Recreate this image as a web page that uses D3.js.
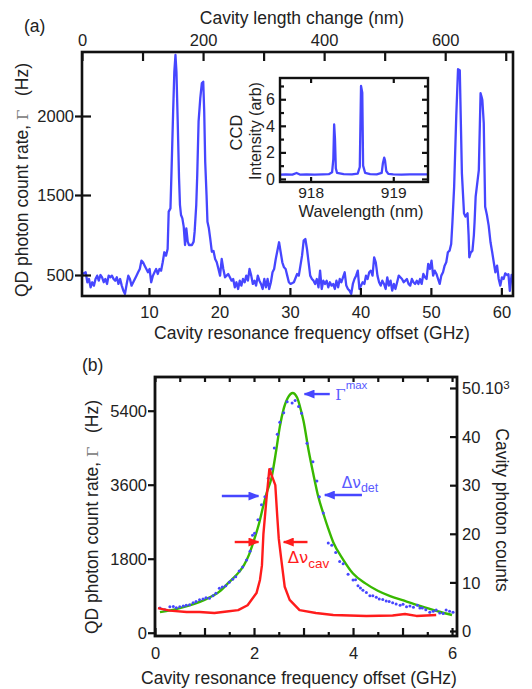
<!DOCTYPE html>
<html>
<head>
<meta charset="utf-8">
<script src="https://cdn.jsdelivr.net/npm/d3@7"></script>
<style>
  body { margin: 0; background: #fff; }
  text { font-family: "Liberation Sans", Arial, sans-serif; fill: #222; }
</style>
</head>
<body>
<svg id="chart" width="532" height="689"></svg>
<script>
// ---------- data, panel (a): QD count rate vs cavity offset (GHz, Hz) ----------
const traceA = [
  [0.5, 500], [0.56, 513], [1.02, 534], [1.26, 409], [1.49, 450], [1.72, 346], [1.95, 409], [2.19, 367],
  [2.42, 450], [2.65, 492], [2.88, 429], [3.12, 500], [3.35, 471], [3.58, 409], [3.81, 450], [4.05, 388],
  [4.28, 492], [4.51, 471], [4.74, 492], [4.98, 450], [5.21, 429], [5.44, 471], [5.67, 388], [5.91, 450],
  [6.14, 367], [6.37, 304], [6.6, 263], [6.84, 388], [7.07, 492], [7.3, 450], [7.53, 367], [7.77, 409],
  [8.0, 450], [8.23, 492], [8.46, 534], [8.7, 575], [8.93, 679], [9.16, 659], [9.39, 617], [9.63, 575],
  [9.86, 534], [10.09, 575], [10.32, 409], [10.56, 492], [10.79, 534], [11.02, 575], [11.25, 513], [11.49, 575],
  [11.72, 554], [11.95, 659], [12.18, 784], [12.42, 742], [12.65, 825], [12.8, 1292], [13.05, 1333], [13.2, 1648],
  [13.43, 2027], [13.6, 2280], [13.76, 2386], [13.9, 2280], [14.08, 1964], [14.27, 1605], [14.4, 1375], [14.55, 1250],
  [14.74, 1208], [14.93, 1104], [15.12, 875], [15.3, 1083], [15.5, 917], [15.68, 875], [15.87, 875], [16.1, 875],
  [16.34, 917], [16.48, 1042], [16.71, 1375], [16.85, 1627], [17.04, 1964], [17.28, 2112], [17.5, 2207], [17.7, 2217],
  [17.84, 2027], [17.98, 1711], [18.17, 1500], [18.3, 1166], [18.5, 1083], [18.69, 958], [18.92, 791], [19.16, 800],
  [19.39, 700], [19.62, 659], [19.86, 575], [20.09, 492], [20.32, 700], [20.55, 575], [20.79, 471], [21.02, 492],
  [21.25, 513], [21.48, 471], [21.72, 429], [21.95, 450], [22.18, 346], [22.41, 409], [22.65, 325], [22.88, 429],
  [23.11, 367], [23.34, 450], [23.58, 409], [23.81, 492], [24.04, 429], [24.27, 575], [24.51, 492], [24.74, 388],
  [24.97, 429], [25.2, 367], [25.44, 492], [25.67, 429], [25.9, 388], [26.13, 325], [26.37, 450], [26.6, 346],
  [26.83, 450], [27.06, 325], [27.3, 409], [27.53, 534], [27.76, 575], [27.99, 700], [28.22, 804], [28.46, 909],
  [28.69, 784], [28.92, 659], [29.16, 596], [29.39, 575], [29.62, 492], [29.85, 409], [30.09, 388], [30.56, 409],
  [31.02, 513], [31.26, 492], [31.49, 617], [31.72, 742], [31.95, 929], [32.19, 950], [32.42, 825], [32.65, 659],
  [32.88, 492], [33.12, 450], [33.35, 429], [33.58, 388], [33.81, 450], [34.05, 346], [34.28, 554], [34.51, 325],
  [34.74, 429], [34.98, 388], [35.21, 429], [35.44, 346], [35.67, 409], [35.91, 367], [36.14, 388], [36.37, 325],
  [36.6, 429], [36.84, 346], [37.07, 450], [37.3, 409], [37.53, 471], [37.77, 534], [38.0, 367], [38.23, 325],
  [38.46, 304], [38.7, 263], [38.93, 388], [39.16, 450], [39.39, 492], [39.63, 554], [39.86, 325], [40.09, 367],
  [40.32, 409], [40.56, 388], [40.79, 492], [41.02, 450], [41.25, 534], [41.49, 554], [41.72, 492], [41.95, 721],
  [42.18, 659], [42.42, 492], [42.65, 409], [42.88, 367], [43.11, 429], [43.35, 388], [43.58, 325], [43.81, 471],
  [44.04, 367], [44.28, 429], [44.51, 304], [44.74, 388], [44.97, 325], [45.21, 409], [45.44, 492], [45.67, 471],
  [45.9, 450], [46.14, 409], [46.37, 429], [46.6, 450], [46.83, 388], [47.07, 367], [47.3, 450], [47.53, 409],
  [47.76, 388], [48.0, 429], [48.23, 388], [48.46, 450], [48.69, 388], [48.93, 513], [49.16, 471], [49.39, 450],
  [49.62, 638], [49.86, 575], [50.09, 679], [50.32, 492], [50.55, 554], [50.79, 513], [51.02, 450], [51.25, 388],
  [51.48, 492], [51.72, 534], [51.95, 617], [52.18, 659], [52.41, 784], [52.65, 804], [52.88, 888], [53.05, 1150],
  [53.3, 1553], [53.6, 2000], [53.85, 2296], [54.1, 2290], [54.4, 1637], [54.7, 1271], [54.9, 1229], [55.2, 1271],
  [55.35, 1000], [55.45, 721], [55.65, 780], [55.9, 804], [56.1, 1000], [56.2, 1166], [56.35, 1479], [56.8, 1658],
  [57.05, 2144], [57.2, 2120], [57.3, 2101], [57.5, 1955], [57.7, 1354], [57.95, 1250], [58.2, 1117], [58.46, 909],
  [58.7, 784], [58.92, 659], [59.15, 534], [59.39, 617], [59.62, 450], [59.85, 367], [60.08, 471], [60.32, 450],
  [60.55, 520], [60.8, 500], [61.0, 510], [61.2, 300], [61.45, 500], [61.65, 490]
];
const ghzTicksA = [10, 20, 30, 40, 50, 60];
const nmTicksA = [0, 100, 200, 300, 400, 500, 600, 700];
const nmLabelsA = [0, 200, 400, 600];
const rateTicksA = [500, 1500, 2000];

// inset: CCD spectrum (nm, arb)
const spectrum = [
  [917.63, 0.32], [917.7, 0.35], [917.78, 0.33], [917.83, 0.45], [917.87, 0.33], [917.95, 0.34], [918.05, 0.33],
  [918.15, 0.35], [918.22, 0.36], [918.26, 0.5], [918.275, 1.5], [918.285, 4.1], [918.295, 3.0], [918.305, 0.8],
  [918.32, 0.45], [918.4, 0.36], [918.5, 0.35], [918.57, 0.4], [918.595, 0.9], [918.61, 7.0], [918.625, 6.5],
  [918.635, 1.0], [918.66, 0.45], [918.72, 0.36], [918.8, 0.35], [918.86, 0.45], [918.875, 1.2], [918.89, 1.6],
  [918.9, 1.4], [918.915, 0.6], [918.94, 0.38], [919.0, 0.35], [919.1, 0.33], [919.2, 0.35], [919.3, 0.34],
  [919.42, 0.34]
];
const nmTicksInset = [918, 919];
const arbTicksInset = [0, 1, 2, 3, 4, 5, 6, 7];

// ---------- data, panel (b) ----------
// measured QD count rate (GHz, Hz)
const dotsB = [
  [0.1, 600], [0.2, 560], [0.3, 630], [0.37, 640], [0.43, 610], [0.5, 630], [0.57, 650], [0.63, 670],
  [0.7, 680], [0.77, 730], [0.83, 760], [0.9, 800], [0.97, 820], [1.03, 850], [1.1, 840], [1.17, 900],
  [1.23, 960], [1.3, 1080], [1.36, 1110], [1.43, 1140], [1.5, 1230], [1.57, 1300], [1.63, 1360], [1.7, 1500],
  [1.77, 1600], [1.85, 1770], [1.92, 1980], [1.97, 2370], [2.01, 2420], [2.08, 2750], [2.15, 3110], [2.22, 3310],
  [2.29, 3760], [2.35, 3980], [2.41, 4490], [2.47, 4830], [2.52, 5120], [2.6, 5350], [2.67, 5620], [2.77, 5590],
  [2.83, 5650], [2.9, 5500], [2.96, 5340], [3.07, 4610], [3.19, 4160], [3.27, 3690], [3.32, 3310], [3.4, 2910],
  [3.5, 2180], [3.57, 2130], [3.65, 1950], [3.73, 1730], [3.8, 1680], [3.9, 1420], [4.0, 1280], [4.05, 1290],
  [4.1, 1140], [4.15, 1090], [4.2, 1030], [4.27, 980], [4.34, 900], [4.4, 900], [4.47, 860], [4.53, 820],
  [4.6, 810], [4.67, 770], [4.73, 760], [4.8, 730], [4.87, 700], [4.95, 670], [5.01, 690], [5.08, 630],
  [5.15, 650], [5.22, 620], [5.3, 670], [5.35, 600], [5.4, 600], [5.47, 560], [5.55, 500], [5.62, 520],
  [5.68, 550], [5.75, 480], [5.82, 470], [5.88, 550], [5.95, 520], [6.02, 500]
];
// fitted curve (GHz, Hz)
const fitB = [
  [0.1, 500], [0.5, 600], [1.0, 800], [1.3, 1000], [1.5, 1235], [1.7, 1480], [1.8, 1650], [1.9, 1900],
  [2.0, 2250], [2.1, 2650], [2.2, 3150], [2.26, 3420], [2.35, 3750], [2.45, 4450], [2.52, 5000], [2.6, 5450],
  [2.7, 5750], [2.78, 5830], [2.87, 5720], [2.95, 5400], [3.0, 5150], [3.1, 4450], [3.2, 3850], [3.3, 3300],
  [3.4, 2900], [3.5, 2530], [3.6, 2200], [3.8, 1780], [4.0, 1440], [4.25, 1200], [4.5, 1020], [4.75, 890],
  [5.0, 790], [5.25, 690], [5.5, 600], [5.75, 510], [6.0, 430]
];
// cavity photon counts (GHz, counts)
const cavityB = [
  [0.06, 4700], [0.3, 4200], [0.64, 3900], [0.9, 3900], [1.2, 3700], [1.45, 4000], [1.68, 4300], [1.87, 5300],
  [2.05, 7800], [2.12, 10500], [2.16, 13500], [2.19, 20000], [2.25, 27000], [2.31, 33300], [2.43, 30000],
  [2.47, 23500], [2.5, 19000], [2.55, 14800], [2.62, 9100], [2.72, 6400], [2.92, 4300], [3.25, 3700],
  [3.6, 3300], [4.27, 3100], [4.8, 3200], [5.05, 3500], [5.28, 3100], [5.68, 3300]
];
const ghzMajorB = [0, 1, 2, 3, 4, 5, 6];
const ghzMinorB = [0.5, 1.5, 2.5, 3.5, 4.5, 5.5];
const ghzLabelsB = [0, 2, 4, 6];
const rateTicksB = [0, 1800, 3600, 5400];
const countTicksB = [0, 10000, 20000, 30000, 40000, 50000];

// annotations of panel (b), in data units: arrows [x from, x to, Hz]
const blueArrows = [[3.53, 3.02, 5805], [4.18, 3.43, 3349], [1.35, 2.09, 3325]];
const redArrows = [[1.61, 2.09, 2206], [3.08, 2.6, 2206]];

// ---------- drawing ----------
const svg = d3.select('#chart');
const BLUE = '#4646ff';
const LABEL_BLUE = '#5a5aff';
const RED = '#ff1c1c';
const GREEN = '#38b800';
const INK = '#111';
const FONT = '"Liberation Sans", Arial, sans-serif';
const TICK_SIZE = 16.5;
const TITLE_SIZE = 17.5;

function tidy(g) {
  g.select('.domain').remove();
  g.attr('font-family', FONT).attr('font-size', TICK_SIZE);
  g.selectAll('line').attr('stroke', INK).attr('stroke-width', 2.2);
  g.selectAll('text').attr('fill', '#222');
}

const defs = svg.append('defs');
defs.append('clipPath').attr('id', 'clipA')
  .append('rect').attr('x', 82).attr('y', 52).attr('width', 431).attr('height', 244);
defs.append('clipPath').attr('id', 'clipB')
  .append('rect').attr('x', 155).attr('y', 377).attr('width', 302).attr('height', 259);

[['arrowBlue', BLUE], ['arrowRed', RED]].forEach(([id, color]) => {
  defs.append('marker')
    .attr('id', id)
    .attr('markerUnits', 'userSpaceOnUse')
    .attr('markerWidth', 11).attr('markerHeight', 9)
    .attr('refX', 10).attr('refY', 4.5)
    .attr('orient', 'auto')
    .append('path').attr('d', 'M0,0 L11,4.5 L0,9 Z').attr('fill', color);
});

// panel (a)
const xA = d3.scaleLinear().domain([0.5, 61.65]).range([82, 513]);
const nmA = d3.scaleLinear().domain([0, 712]).range([82, 513]);
const yA = d3.scaleLinear()
  .domain([237, 500, 1500, 2000, 2405])
  .range([296, 275, 195, 116, 52]);

svg.append('path')
  .datum(traceA)
  .attr('clip-path', 'url(#clipA)')
  .attr('fill', 'none')
  .attr('stroke', BLUE)
  .attr('stroke-width', 2.3)
  .attr('stroke-linejoin', 'round')
  .attr('d', d3.line().x((d) => xA(d[0])).y((d) => yA(d[1])));

svg.append('g')
  .attr('transform', 'translate(0,296)')
  .call(d3.axisBottom(xA).tickValues(ghzTicksA).tickSize(-8).tickFormat(d3.format('d')))
  .call(tidy)
  .call((g) => g.selectAll('text').attr('y', 22).attr('dy', 0));

svg.append('g')
  .attr('transform', 'translate(0,52)')
  .call(d3.axisTop(nmA).tickValues(nmTicksA).tickSize(-9)
    .tickFormat((d) => (nmLabelsA.includes(d) ? d : '')))
  .call(tidy)
  .call((g) => g.selectAll('text').attr('y', -6).attr('dy', 0));

svg.append('g')
  .attr('transform', 'translate(82,0)')
  .call(d3.axisLeft(yA).tickValues(rateTicksA).tickSize(7).tickFormat(d3.format('d')))
  .call(tidy)
  .call((g) => g.selectAll('line').attr('x1', 9))
  .call((g) => g.selectAll('text').attr('x', -8).attr('dy', '0.35em'));

svg.append('rect')
  .attr('x', 82).attr('y', 52).attr('width', 431).attr('height', 244)
  .attr('fill', 'none').attr('stroke', INK).attr('stroke-width', 2.6);

svg.append('text').attr('x', 24).attr('y', 32).attr('font-size', TITLE_SIZE).text('(a)');
svg.append('text').attr('x', 302).attr('y', 23.5).attr('font-size', TITLE_SIZE)
  .attr('text-anchor', 'middle').text('Cavity length change (nm)');
svg.append('text').attr('x', 312).attr('y', 339).attr('font-size', TITLE_SIZE)
  .attr('text-anchor', 'middle').text('Cavity resonance frequency offset (GHz)');

function rateLabel(x, y) {
  const t = svg.append('text')
    .attr('transform', `translate(${x},${y}) rotate(-90)`)
    .attr('text-anchor', 'middle').attr('font-size', TITLE_SIZE);
  t.append('tspan').text('QD photon count rate, ');
  t.append('tspan').attr('font-family', '"DejaVu Serif", serif').attr('font-size', 15)
    .style('fill', '#777').text('Γ');
  t.append('tspan').text('\u2002 (Hz)');
}
rateLabel(27.5, 180);

// inset
const xI = d3.scaleLinear().domain([917.63, 919.42]).range([280, 428]);
const yI = d3.scaleLinear().domain([-0.23, 7.6]).range([182, 78]);

svg.append('rect')
  .attr('x', 280).attr('y', 78).attr('width', 148).attr('height', 104).attr('fill', '#fff');

svg.append('path')
  .datum(spectrum)
  .attr('fill', 'none')
  .attr('stroke', BLUE)
  .attr('stroke-width', 2.3)
  .attr('stroke-linejoin', 'round')
  .attr('d', d3.line().x((d) => xI(d[0])).y((d) => yI(d[1])));

svg.append('g')
  .attr('transform', 'translate(280,0)')
  .call(d3.axisLeft(yI).tickValues(arbTicksInset).tickSize(-6)
    .tickFormat((d) => (d % 2 === 0 ? d : '')))
  .call(tidy)
  .call((g) => g.attr('font-size', 16))
  .call((g) => g.selectAll('line').attr('x2', (d) => (d % 2 === 0 ? 6 : 4)))
  .call((g) => g.selectAll('text').attr('x', -5).attr('dy', '0.35em'));

svg.append('g')
  .attr('transform', 'translate(428,0)')
  .call(d3.axisRight(yI).tickValues(arbTicksInset).tickSize(-6).tickFormat(''))
  .call(tidy)
  .call((g) => g.selectAll('line').attr('x2', (d) => (d % 2 === 0 ? -6 : -4)));

svg.append('g')
  .attr('transform', 'translate(0,182)')
  .call(d3.axisBottom(xI).tickValues(nmTicksInset).tickSize(-5).tickFormat(d3.format('d')))
  .call(tidy)
  .call((g) => g.attr('font-size', 15.5))
  .call((g) => g.selectAll('text').attr('y', 15.5).attr('dy', 0));

svg.append('g')
  .attr('transform', 'translate(0,78)')
  .call(d3.axisTop(xI).tickValues(nmTicksInset).tickSize(-5).tickFormat(''))
  .call(tidy);

svg.append('rect')
  .attr('x', 280).attr('y', 78).attr('width', 148).attr('height', 104)
  .attr('fill', 'none').attr('stroke', INK).attr('stroke-width', 2.4);

svg.append('text').attr('x', 361).attr('y', 216.5).attr('font-size', 16.5)
  .attr('text-anchor', 'middle').text('Wavelength (nm)');
svg.append('text').attr('transform', 'translate(242,132.5) rotate(-90)')
  .attr('font-size', 16.5).attr('text-anchor', 'middle').text('CCD');
svg.append('text').attr('transform', 'translate(260.5,131) rotate(-90)')
  .attr('font-size', 16).attr('text-anchor', 'middle').text('Intensity (arb)');

// panel (b)
const xB = d3.scaleLinear().domain([0, 6.1]).range([155, 457]);
const yB = d3.scaleLinear().domain([-80, 6220]).range([636, 377]);
const yR = d3.scaleLinear().domain([-1030, 52260]).range([636, 377]);

const plotB = svg.append('g').attr('clip-path', 'url(#clipB)');

plotB.append('path')
  .datum(fitB)
  .attr('fill', 'none')
  .attr('stroke', GREEN)
  .attr('stroke-width', 2.4)
  .attr('d', d3.line().curve(d3.curveMonotoneX).x((d) => xB(d[0])).y((d) => yB(d[1])));

plotB.selectAll('circle')
  .data(dotsB)
  .join('circle')
  .attr('cx', (d) => xB(d[0]))
  .attr('cy', (d) => yB(d[1]))
  .attr('r', 1.5)
  .attr('fill', BLUE);

plotB.append('path')
  .datum(cavityB)
  .attr('fill', 'none')
  .attr('stroke', RED)
  .attr('stroke-width', 2.4)
  .attr('stroke-linejoin', 'round')
  .attr('d', d3.line().x((d) => xB(d[0])).y((d) => yR(d[1])));

svg.append('g')
  .attr('transform', 'translate(0,636)')
  .call(d3.axisBottom(xB).tickValues(ghzMajorB).tickSize(-8)
    .tickFormat((d) => (ghzLabelsB.includes(d) ? d : '')))
  .call(tidy)
  .call((g) => g.selectAll('text').attr('y', 22.5).attr('dy', 0));

svg.append('g')
  .attr('transform', 'translate(0,636)')
  .call(d3.axisBottom(xB).tickValues(ghzMinorB).tickSize(-4).tickFormat(''))
  .call(tidy);

svg.append('g')
  .attr('transform', 'translate(0,377)')
  .call(d3.axisTop(xB).tickValues(ghzMinorB.concat(ghzMajorB)).tickSize(-5).tickFormat(''))
  .call(tidy);

svg.append('g')
  .attr('transform', 'translate(155,0)')
  .call(d3.axisLeft(yB).tickValues(rateTicksB).tickSize(7).tickFormat(d3.format('d')))
  .call(tidy)
  .call((g) => g.selectAll('text').attr('x', -8).attr('dy', '0.35em'));

svg.append('g')
  .attr('transform', 'translate(457,0)')
  .call(d3.axisRight(yR).tickValues(countTicksB).tickSize(-7)
    .tickFormat((d) => (d === 50000 ? '50.10' : d / 1000)))
  .call(tidy)
  .call((g) => g.selectAll('text').attr('x', 5).attr('dy', '0.35em'))
  .call((g) => g.selectAll('text').filter((d) => d === 50000)
    .append('tspan').attr('dy', '-0.5em').attr('font-size', 11.5).text('3'));

svg.append('rect')
  .attr('x', 155).attr('y', 377).attr('width', 302).attr('height', 259)
  .attr('fill', 'none').attr('stroke', INK).attr('stroke-width', 2.8);

svg.append('text').attr('x', 82).attr('y', 371).attr('font-size', TITLE_SIZE).text('(b)');
svg.append('text').attr('x', 299).attr('y', 683.5).attr('font-size', TITLE_SIZE)
  .attr('text-anchor', 'middle').text('Cavity resonance frequency offset (GHz)');
rateLabel(97.5, 517);
svg.append('text').attr('transform', 'translate(496,510) rotate(90)')
  .attr('font-size', TITLE_SIZE).attr('text-anchor', 'middle').text('Cavity photon counts');

// arrows and their labels
svg.selectAll('line.arrow-blue')
  .data(blueArrows)
  .join('line')
  .attr('class', 'arrow-blue')
  .attr('x1', (d) => xB(d[0])).attr('x2', (d) => xB(d[1]))
  .attr('y1', (d) => yB(d[2])).attr('y2', (d) => yB(d[2]))
  .attr('stroke', BLUE).attr('stroke-width', 2.4)
  .attr('marker-end', 'url(#arrowBlue)');

svg.selectAll('line.arrow-red')
  .data(redArrows)
  .join('line')
  .attr('class', 'arrow-red')
  .attr('x1', (d) => xB(d[0])).attr('x2', (d) => xB(d[1]))
  .attr('y1', (d) => yB(d[2])).attr('y2', (d) => yB(d[2]))
  .attr('stroke', RED).attr('stroke-width', 2.4)
  .attr('marker-end', 'url(#arrowRed)');

const gMax = svg.append('text').attr('x', xB(3.64)).attr('y', yB(5659));
gMax.append('tspan').attr('font-family', '"DejaVu Serif", serif').attr('font-size', 15)
  .style('fill', LABEL_BLUE).text('Γ');
gMax.append('tspan').attr('dy', -11).attr('font-size', 11.5).style('fill', LABEL_BLUE).text('max');

const det = svg.append('text').attr('x', xB(3.77)).attr('y', yB(3519));
det.append('tspan').attr('font-family', '"DejaVu Sans", sans-serif').attr('font-size', 15.5)
  .style('fill', LABEL_BLUE).text('Δν');
det.append('tspan').attr('dy', 4).attr('font-size', 12.5).style('fill', LABEL_BLUE).text('det');

const cav = svg.append('text').attr('x', xB(2.68)).attr('y', yB(1695));
cav.append('tspan').attr('font-family', '"DejaVu Sans", sans-serif').attr('font-size', 16.5)
  .style('fill', RED).text('Δν');
cav.append('tspan').attr('dy', 5).attr('font-size', 13.5).style('fill', RED).text('cav');
</script>
</body>
</html>
